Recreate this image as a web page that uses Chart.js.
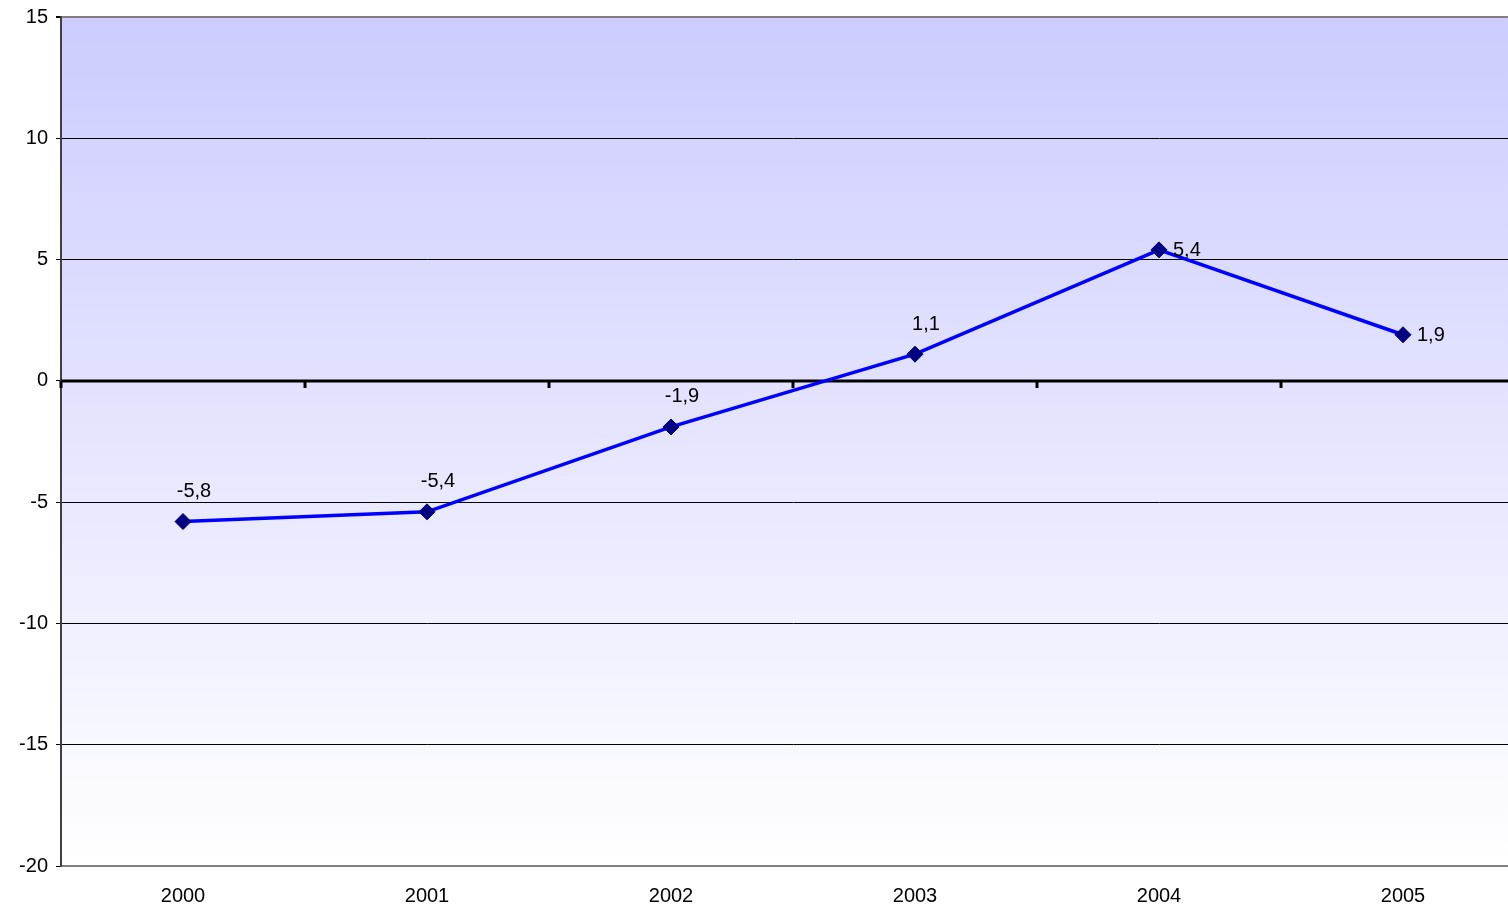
<!DOCTYPE html>
<html>
<head>
<meta charset="utf-8">
<script src="https://cdn.jsdelivr.net/npm/chart.js@4"></script>
<style>
  html, body { margin: 0; padding: 0; background: #fff; overflow: hidden; width: 1508px; height: 910px; }
  canvas { display: block; }
</style>
</head>
<body>
<!-- canvas a bit wider than the window: the plot runs past the right edge, as in the original -->
<canvas id="chart" width="1525" height="910"></canvas>
<script>
// ================= DATA =================
const years = ["2000", "2001", "2002", "2003", "2004", "2005"];
const values = [-5.8, -5.4, -1.9, 1.1, 5.4, 1.9];
const labelSide = ["above", "above", "above", "above", "right", "right"];

const fmt = v => String(v).replace(".", ",");
const FONT = "'Liberation Sans', Arial, sans-serif";

// ================= PLUGINS =================
const bgPlugin = {
  id: "bg",
  beforeDraw(chart) {
    const { ctx, chartArea: a } = chart;
    const g = ctx.createLinearGradient(0, a.top, 0, a.bottom);
    g.addColorStop(0, "#ccccff");
    g.addColorStop(1, "#ffffff");
    ctx.save();
    ctx.fillStyle = g;
    ctx.fillRect(a.left, a.top, a.right - a.left, a.bottom - a.top);
    ctx.restore();
  }
};

const zeroPlugin = {
  id: "zeroLine",
  beforeDatasetsDraw(chart) {
    const { ctx, chartArea: a, scales } = chart;
    const y0 = Math.round(scales.y.getPixelForValue(0));
    ctx.save();
    ctx.strokeStyle = "#000";
    ctx.lineWidth = 3;
    ctx.beginPath();
    ctx.moveTo(a.left, y0);
    ctx.lineTo(a.right, y0);
    ctx.stroke();
    // category tick marks on the zero line
    for (let i = 0; i < years.length; i++) {
      const x = Math.round(scales.x.getPixelForValue(i - 0.5));
      ctx.beginPath();
      ctx.moveTo(x, y0);
      ctx.lineTo(x, y0 + 7);
      ctx.stroke();
    }
    ctx.restore();
  }
};

const labelPlugin = {
  id: "pointLabels",
  afterDatasetsDraw(chart) {
    const { ctx } = chart;
    const meta = chart.getDatasetMeta(0);
    ctx.save();
    ctx.font = "20px " + FONT;
    ctx.fillStyle = "#000";
    ctx.textBaseline = "middle";
    meta.data.forEach((pt, i) => {
      const txt = fmt(values[i]);
      if (labelSide[i] === "right") {
        ctx.textAlign = "left";
        ctx.fillText(txt, pt.x + 14, pt.y + 1);
      } else {
        ctx.textAlign = "center";
        ctx.fillText(txt, pt.x + 11, pt.y - 30);
      }
    });
    ctx.restore();
  }
};

// ================= CHART =================
const ctx = document.getElementById("chart").getContext("2d");

new Chart(ctx, {
  type: "line",
  data: {
    labels: years,
    datasets: [{
      data: values,
      borderColor: "#0000ff",
      borderWidth: 3.5,
      tension: 0,
      pointStyle: "rectRot",
      pointRadius: 8,
      pointHoverRadius: 8,
      pointBackgroundColor: "#000080",
      pointBorderColor: "#000080",
      pointBorderWidth: 1
    }]
  },
  options: {
    responsive: false,
    devicePixelRatio: 1,
    animation: false,
    layout: { autoPadding: false, padding: { top: 17, right: 0, left: 0, bottom: 0 } },
    plugins: {
      legend: { display: false },
      tooltip: { enabled: false }
    },
    scales: {
      x: {
        offset: true,
        grid: { display: false, drawTicks: false },
        border: { display: true, color: "#808080", width: 2 },
        ticks: {
          color: "#000",
          padding: 18,
          maxRotation: 0,
          font: { family: FONT, size: 20 }
        },
        afterFit(scale) {
          scale.height = 44;
          scale.paddingLeft = 0;
          scale.paddingRight = 0;
        }
      },
      y: {
        min: -20,
        max: 15,
        ticks: {
          stepSize: 5,
          color: "#000",
          padding: 8,
          font: { family: FONT, size: 20 }
        },
        grid: {
          color: c => (c.tick.value === 15 ? "#808080" : c.tick.value === 0 ? "rgba(0,0,0,0)" : "#000"),
          lineWidth: c => (c.tick.value === 15 ? 2 : 1),
          tickColor: "#000",
          tickLength: 5
        },
        border: { display: true, color: "#404040", width: 2 },
        afterFit(scale) {
          scale.width = 61;
          scale.paddingTop = 0;
          scale.paddingBottom = 0;
        }
      }
    }
  },
  plugins: [bgPlugin, zeroPlugin, labelPlugin]
});
</script>
</body>
</html>
